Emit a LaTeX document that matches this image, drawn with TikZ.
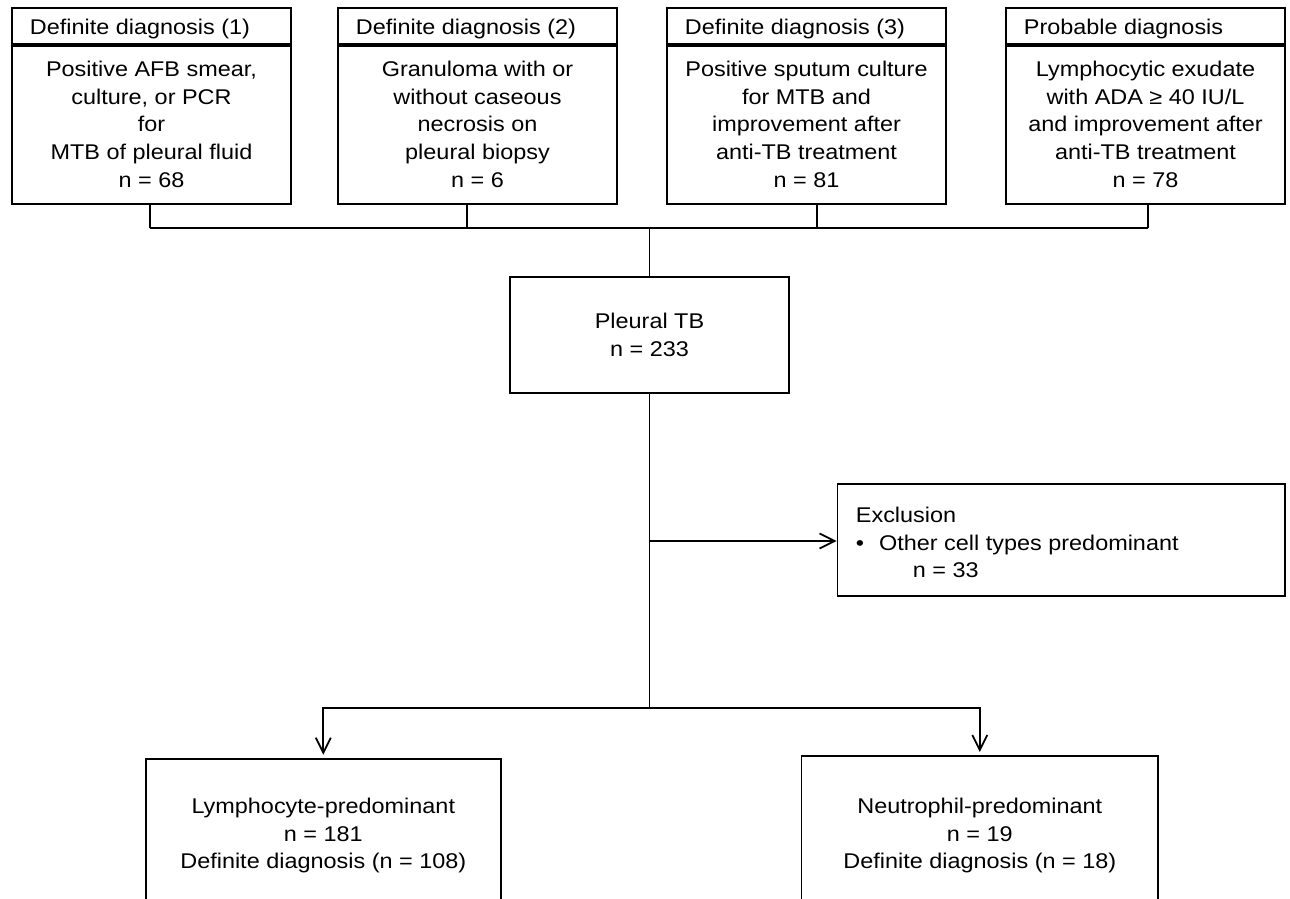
\documentclass[tikz,border=0pt]{standalone}
\usepackage{fontspec}
\setmainfont{Liberation Sans}[FakeStretch = 1.1]
\usetikzlibrary{arrows.meta}

\begin{document}
\begin{tikzpicture}[x = 1pt, y = -1pt, > = {Straight Barb[length = 15pt, width = 15pt]}, line width = 1.8pt,
	font = \fontsize{21.3}{27.8}\selectfont,
	box/.style = {draw, inner sep = 0pt, minimum width = 279pt},
	txt/.style = {inner sep = 0pt, align = center}]

	\useasboundingbox (0, 0) rectangle (1290, 899);
	\clip (0, 0) rectangle (1290, 899);

	% Diagnosis boxes

	\foreach \i/\x/\bx/\t in {1/151.5/150/Definite diagnosis (1), 2/477.5/467/Definite diagnosis (2), 3/806.5/817/Definite diagnosis (3), 4/1145.5/1148/Probable diagnosis} {
		\node [box, anchor = north, minimum height = 36pt] (head\i) at (\x, 7) {};
		\node [box, anchor = north, minimum height = 158pt] (diag\i) at (head\i.south) {};
		\node [txt, anchor = base west] (title\i) at (\x - 122.5, 35) {\t};
		\coordinate (bus\i) at (\bx, 228);
		\draw (diag\i.south -| bus\i) -- (bus\i);
	}

	\node [txt, anchor = north] (crit1) at (151.5, 60) {Positive AFB smear,\\culture, or PCR\\for\\MTB of pleural fluid\\n = 68};
	\node [txt, anchor = north] (crit2) at (477.5, 60) {Granuloma with or\\without caseous\\necrosis on\\pleural biopsy\\n = 6};
	\node [txt, anchor = north] (crit3) at (806.5, 60) {Positive sputum culture\\for MTB and\\improvement after\\anti-TB treatment\\n = 81};
	\node [txt, anchor = north] (crit4) at (1145.5, 60) {Lymphocytic exudate\\with ADA ≥ 40 IU/L\\and improvement after\\anti-TB treatment\\n = 78};

	\draw (bus1) -- (bus4);

	% Pleural TB

	\node [box, txt, minimum width = 279pt, minimum height = 116pt] (tb) at (649.5, 335) {Pleural TB\\n = 233};
	\draw (tb.north |- bus1) -- (tb.north);

	% Exclusion

	\node [box, minimum width = 447.5pt, minimum height = 112pt] (excl) at (1061.25, 540) {};
	\node [txt, anchor = north west, align = left] (excltxt) at (855, 506) {Exclusion\\\textbullet\hspace{15pt}Other cell types predominant\\\hspace{57pt}n = 33};

	\coordinate (split) at (649.5, 541);
	\coordinate (fork) at (649.5, 708);
	\draw (tb.south) -- (fork);
	\draw [->] (split) -- (split -| excl.west);

	% Cell type groups

	\node [box, anchor = north, minimum width = 355.4pt, minimum height = 170pt] (lymph) at (323.3, 757.7) {};
	\node [box, anchor = north, minimum width = 356.5pt, minimum height = 170pt] (neut) at (979.8, 755) {};
	\node [txt, anchor = north] (lymphtxt) at (323.3, 797) {Lymphocyte-predominant\\n = 181\\Definite diagnosis (n = 108)};
	\node [txt, anchor = north] (neuttxt) at (979.8, 797) {Neutrophil-predominant\\n = 19\\Definite diagnosis (n = 18)};

	\draw [->, shorten > = 3pt] (fork) -| (lymph.north);
	\draw [->, shorten > = 3pt] (fork) -| (neut.north);

\end{tikzpicture}
\end{document}
